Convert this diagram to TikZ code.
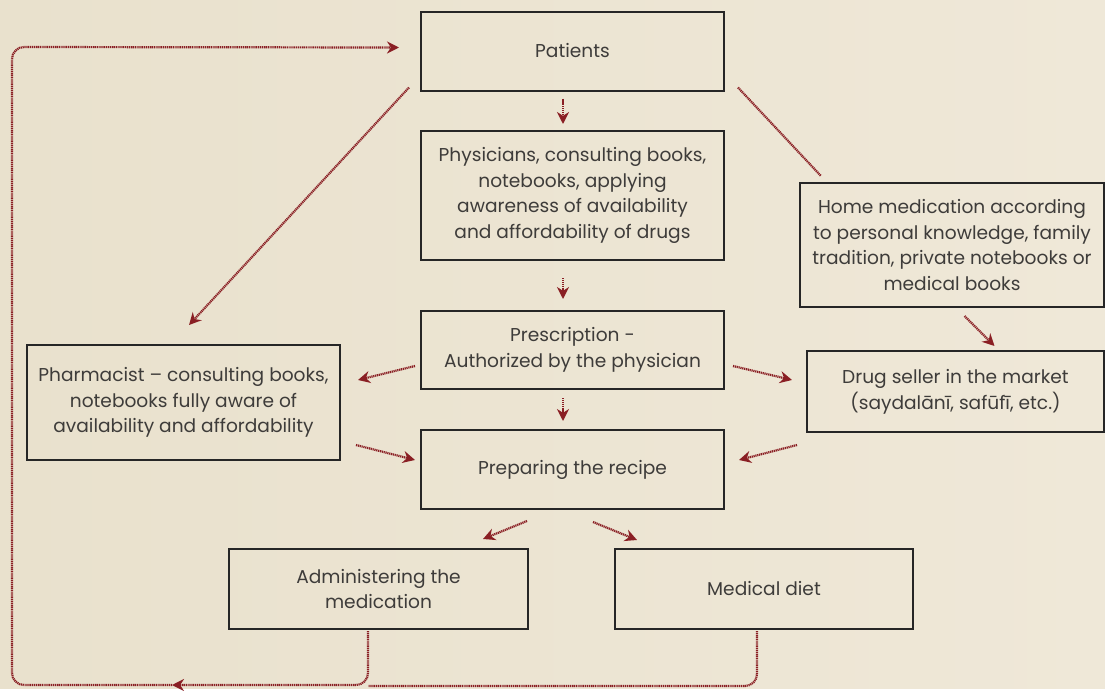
\documentclass[tikz,border=0pt]{standalone}
\usepackage{fontspec}
\setmainfont{Poppins}
\usetikzlibrary{arrows.meta,calc}
\definecolor{paper}{HTML}{EFE8D8}
\definecolor{paperdark}{HTML}{E9E1CD}
\definecolor{wine}{HTML}{8A1F24}
\definecolor{ink}{HTML}{3E3C3A}
\begin{document}
\begin{tikzpicture}[x=0.5pt,y=-0.5pt]
				\tikzstyle{every node}=[font=\fontsize{9.3}{12.9}\selectfont,text=ink,align=center]
				\tikzstyle{box}=[draw=black!85,line width=1pt,inner sep=0pt]
				\tikzstyle{arr}=[draw=wine,line width=1.1pt,dash pattern=on 0.6pt off 0.35pt,
				-{Stealth[length=6pt,width=6pt,fill=wine]}]
				\tikzstyle{plain}=[draw=wine,line width=1.1pt,dash pattern=on 0.6pt off 0.35pt]
				\shade[left color=paperdark,right color=paper] (0,0) rectangle (1105,688);
				\node[box,minimum width=151.5pt,minimum height=39.5pt] (patients) at (572.5,51) {Patients};
				\node[box,minimum width=151.5pt,minimum height=64.5pt] (phys) at (572.5,195.5)
				{Physicians, consulting books,\\ notebooks, applying\\ awareness of availability\\ and affordability of drugs};
				\node[box,minimum width=151.5pt,minimum height=39pt] (presc) at (572.5,350)
				{Prescription -\\ Authorized by the physician};
				\node[box,minimum width=151.5pt,minimum height=39.5pt] (prep) at (572.5,469.5) {Preparing the recipe};
				\node[box,minimum width=156.5pt,minimum height=57.5pt] (pharm) at (183.5,402.5)
				{Pharmacist -- consulting books,\\ notebooks fully aware of\\ availability and affordability};
				\node[box,minimum width=152pt,minimum height=62pt] (home) at (952,245)
				{Home medication according\\ to personal knowledge, family\\ tradition, private notebooks or\\ medical books};
				\node[box,minimum width=148.5pt,minimum height=40.5pt] (seller) at (955.5,391.5)
				{Drug seller in the market\\ (saydalānī, safūfī, etc.)};
				\node[box,minimum width=149.5pt,minimum height=40pt] (admin) at (378.5,589)
				{Administering the\\ medication};
				\node[box,minimum width=149pt,minimum height=40pt] (diet) at (764,589) {Medical diet};
				\coordinate (loopmid) at (172,685);
				\coordinate (loopbl) at (12,685);
				\coordinate (looptl) at (12,47);
				\draw[arr] ($(patients.south)+(-9.5,7)$) -- ($(phys.north)+(-9.5,-6)$);
				\draw[arr] ($(phys.south)+(-9.5,17)$) -- ($(presc.north)+(-9.5,-11)$);
				\draw[arr] ($(presc.south)+(-9.5,8)$) -- ($(prep.north)+(-9.5,-8)$);
				\draw[arr] ($(patients.south west)+(-11,-4)$) -- ($(pharm.north west)+(163,-19)$);
				\draw[plain] ($(patients.south east)+(13,-4)$) -- ($(home.north west)+(22,-6)$);
				\draw[arr] ($(home.south)+(12.5,8)$) -- ($(seller.north)+(39,-4)$);
				\draw[arr] ($(presc.west)+(-5,16)$) -- ($(pharm.east)+(17,-22.5)$);
				\draw[arr] ($(presc.east)+(8,16)$) -- ($(seller.west)+(-14,-11.5)$);
				\draw[arr] ($(pharm.east)+(15,42.5)$) -- ($(prep.west)+(-5,-9.5)$);
				\draw[arr] ($(seller.west)+(-9,53.5)$) -- ($(prep.east)+(14,-9.5)$);
				\draw[arr] ($(prep.south)+(-45.5,11)$) -- ($(admin.north)+(104.5,-9)$);
				\draw[arr] ($(prep.south)+(20.5,12)$) -- ($(diet.north)+(-127,-8)$);
				\draw[arr,rounded corners=6pt] ($(admin.south)+(-10.5,1)$) |- (loopmid);
				\draw[plain,rounded corners=6pt] ($(diet.south)+(-7,1)$) |- ($(admin.south)+(-10.5,56)$);
				\draw[arr,rounded corners=6pt] (loopmid) -- (loopbl) -- (looptl) -- ($(patients.west)+(-21,-3.5)$);
\end{tikzpicture}
\end{document}
